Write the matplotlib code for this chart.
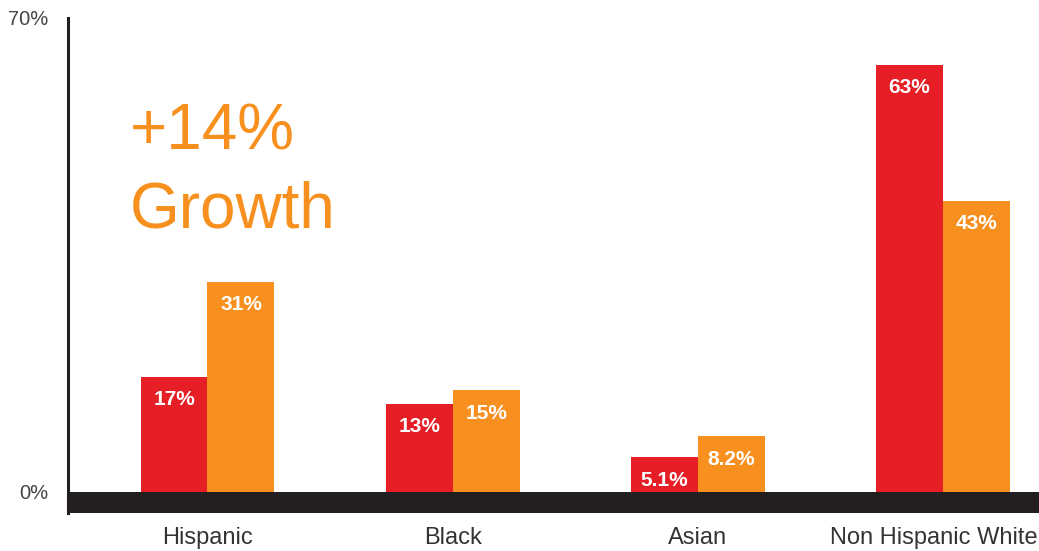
import numpy as np
import matplotlib.pyplot as plt

# data
categories = ['Hispanic', 'Black', 'Asian', 'Non Hispanic White']
share_then = [17, 13, 5.1, 63]
share_now = [31, 15, 8.2, 43]
labels_then = ['17%', '13%', '5.1%', '63%']
labels_now = ['31%', '15%', '8.2%', '43%']
ytick_vals = [0, 70]
ytick_labels = ['0%', '70%']

RED = '#e61e25'
ORANGE = '#f7901e'
DARK = '#231f20'

plt.rcParams['font.family'] = ['Liberation Sans', 'DejaVu Sans']

fig = plt.figure(figsize=(10.39, 5.51), dpi=100)
W, H = 1039, 551
ax = fig.add_axes([68 / W, 1 - 513 / H, (1039 - 68) / W, (513 - 17.6) / H])

x = np.arange(len(categories))
w = 0.273
b1 = ax.bar(x - w / 2, share_then, w, color=RED, zorder=2)
b2 = ax.bar(x + w / 2, share_now, w, color=ORANGE, zorder=2)

for bars, labs in ((b1, labels_then), (b2, labels_now)):
    for rect, lab in zip(bars, labs):
        ax.annotate(lab, (rect.get_x() + rect.get_width() / 2, rect.get_height()),
                    xytext=(0, -16.5), textcoords='offset points',
                    ha='center', va='center', color='white',
                    fontsize=15, fontweight='bold', zorder=4)

# dark base band under zero
ax.axhspan(-3.1, 0, color=DARK, zorder=3, lw=0)

ax.set_xlim(-0.569, 3.392)
ax.set_ylim(-3.1, 70)

# last category label runs to the right edge, so right-align it there
ax.set_xticks(x)
ax.set_xticklabels(categories[:-1] + [''], fontsize=17, color='#333333')
ax.tick_params(axis='x', length=0, pad=10)
ax.annotate(categories[-1], (0.999, 0), xycoords='axes fraction',
            xytext=(0, -10), textcoords='offset points',
            ha='right', va='top', fontsize=17, color='#333333')

ax.set_yticks(ytick_vals)
ax.set_yticklabels(ytick_labels, fontsize=14.5, color='#444444')
ax.tick_params(axis='y', length=0, pad=14)

for s in ['top', 'right', 'bottom']:
    ax.spines[s].set_visible(False)
ax.spines['left'].set_linewidth(2.2)
ax.spines['left'].set_color(DARK)

ax.text(130 / W, 1 - 150 / H, '+14%', transform=fig.transFigure,
        fontsize=46, color=ORANGE, ha='left', va='baseline')
ax.text(130 / W, 1 - 228 / H, 'Growth', transform=fig.transFigure,
        fontsize=46, color=ORANGE, ha='left', va='baseline')

fig.savefig('out.png', dpi=100)
